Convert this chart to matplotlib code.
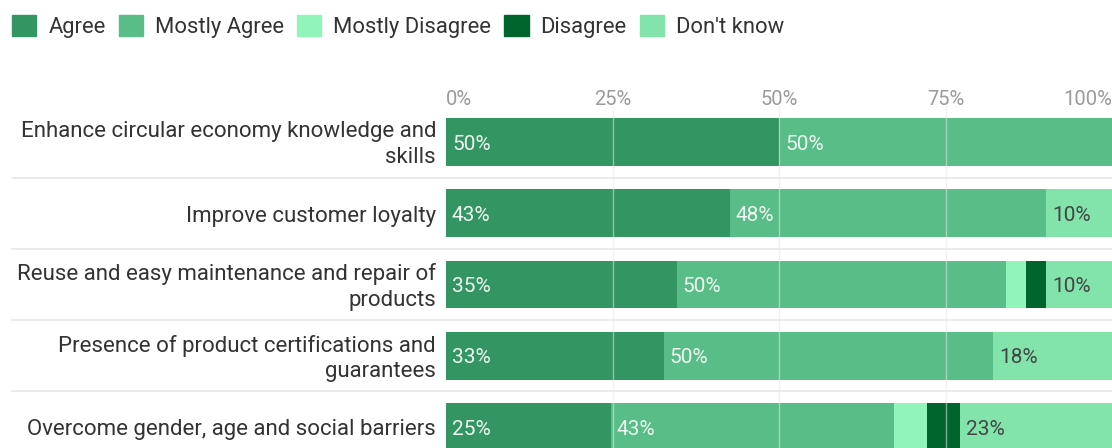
import matplotlib.pyplot as plt
import numpy as np
from matplotlib.patches import Rectangle
from matplotlib.lines import Line2D

plt.rcParams['font.family'] = ['Roboto', 'DejaVu Sans']

categories = [
    "Enhance circular economy knowledge and\nskills",
    "Improve customer loyalty",
    "Reuse and easy maintenance and repair of\nproducts",
    "Presence of product certifications and\nguarantees",
    "Overcome gender, age and social barriers",
]
responses = ["Agree", "Mostly Agree", "Mostly Disagree", "Disagree", "Don't know"]
colors = ["#339662", "#58bd86", "#91f5ba", "#00642d", "#82e4aa"]
label_colors = ["#eef7f1", "#eef7f1", "#444444", "#eeeeee", "#444444"]

# rounded share of answers per category, in percent (rows follow `categories`)
agree = [50, 43, 35, 33, 25]
mostly_agree = [50, 48, 50, 50, 43]
mostly_disagree = [0, 0, 3, 0, 5]
disagree = [0, 0, 3, 0, 5]
dont_know = [0, 10, 10, 18, 23]
series = [agree, mostly_agree, mostly_disagree, disagree, dont_know]

ticks = [0, 25, 50, 75, 100]
tick_labels = ["0%", "25%", "50%", "75%", "100%"]

# rounding makes some rows add up to 101, so each row is scaled to fill 100%
raw = np.array(series, dtype=float)
scaled = raw / raw.sum(axis=0) * 100

fig = plt.figure(figsize=(11.12, 4.48), dpi=100)
ax = fig.add_axes([446 / 1112, 0, 666 / 1112, 342 / 448])

y = np.arange(len(categories))
left = np.zeros(len(categories))
for vals, pct, col, tcol in zip(scaled, raw, colors, label_colors):
    ax.barh(y, vals, left=left, height=0.67, color=col, zorder=2)
    for yi, (l, p) in enumerate(zip(left, pct)):
        if p >= 9:
            ax.text(l + 0.9, yi + 0.03, f"{p:.0f}%", color=tcol, fontsize=15,
                    va='center', ha='left', zorder=4)
    left += vals

ax.set_xlim(0, 100)
ax.set_ylim(4.295, -0.505)
ax.axis('off')

# vertical grid drawn lightly over the bars
for t in ticks[1:-1]:
    ax.axvline(t, color='#e8e8e8', lw=1, alpha=0.55, zorder=3)

# percent scale above the bars
for t, lab in zip(ticks, tick_labels):
    ha = 'left' if t == 0 else ('right' if t == 100 else 'center')
    ax.text(t, -0.6, lab, color='#9a9a9a', fontsize=14.5, ha=ha, va='center')

# category labels and row separators
x0 = (12 - 446) / 666 * 100
for yi, cat in enumerate(categories):
    ax.text(-1.5, yi + 0.04, cat, ha='right', va='center', fontsize=16,
            color='#333333', linespacing=1.3)
    if yi < len(categories) - 1:
        ax.add_line(Line2D([x0, 100], [yi + 0.5, yi + 0.5], color='#e6e6e6',
                           lw=1.2, clip_on=False, zorder=1))

# legend row across the top
handles = [Rectangle((0, 0), 1, 1, color=c) for c in colors]
leg = fig.legend(handles, responses, loc='upper left', ncol=5,
                 bbox_to_anchor=(0.003, 0.987), frameon=False, fontsize=15.8,
                 handlelength=1.1, handleheight=1.1, handletextpad=0.55,
                 columnspacing=0.6, borderaxespad=0.0)
for txt in leg.get_texts():
    txt.set_color('#333333')

fig.savefig("out.png", dpi=100)
